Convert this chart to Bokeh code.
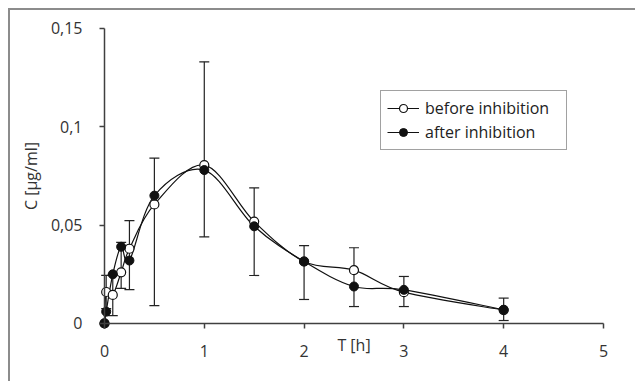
from bokeh.plotting import figure
from bokeh.models import (ColumnDataSource, Whisker, TeeHead, Legend, LegendItem,
                          FixedTicker, CustomJSTickFormatter, Range1d)
from bokeh.embed import file_html
from bokeh.resources import INLINE

# ---- data ----
times = [0, 0.017, 0.083, 0.167, 0.25, 0.5, 1, 1.5, 2, 2.5, 3, 4]
before = [0, 0.016, 0.0145, 0.026, 0.038, 0.0605, 0.0805, 0.0518, 0.0315, 0.0271, 0.0159, 0.0068]
after = [0, 0.006, 0.025, 0.039, 0.032, 0.065, 0.078, 0.0494, 0.0315, 0.0188, 0.0171, 0.0070]

err_times = [0.017, 0.083, 0.167, 0.25, 0.5, 1, 1.5, 2, 2.5, 3, 4]
err_upper = [0.0245, 0.025, 0.0412, 0.0523, 0.0841, 0.133, 0.0689, 0.0396, 0.0385, 0.0239, 0.0129]
err_lower = [0.0075, 0.004, 0.0178, 0.0172, 0.0091, 0.044, 0.0244, 0.0122, 0.0086, 0.0086, 0.0015]

x_ticks = [0, 1, 2, 3, 4, 5]
y_ticks = [0, 0.05, 0.1, 0.15]
y_tick_labels = ["0", "0,05", "0,1", "0,15"]
series_names = ["before inhibition", "after inhibition"]
x_label = "T [h]"
y_label = "C [µg/ml]"

FONT = "Open Sans"
TXT = "#333333"
AX = "#404040"
FRAME = "#8c8c8c"


def smooth_segments(xs, ys):
    """Catmull-Rom style smoothing (like a spreadsheet's smoothed line)."""
    n = len(xs)
    d = dict(x0=[], y0=[], x1=[], y1=[], cx0=[], cy0=[], cx1=[], cy1=[])
    for i in range(n - 1):
        xm, ym = (xs[i - 1], ys[i - 1]) if i > 0 else (xs[i], ys[i])
        xp, yp = (xs[i + 2], ys[i + 2]) if i + 2 < n else (xs[i + 1], ys[i + 1])
        d["x0"].append(xs[i]); d["y0"].append(ys[i])
        d["x1"].append(xs[i + 1]); d["y1"].append(ys[i + 1])
        d["cx0"].append(xs[i] + (xs[i + 1] - xm) / 6)
        d["cy0"].append(ys[i] + (ys[i + 1] - ym) / 6)
        d["cx1"].append(xs[i + 1] - (xp - xs[i]) / 6)
        d["cy1"].append(ys[i + 1] - (yp - ys[i]) / 6)
    return ColumnDataSource(d)


# plotting frame covers the whole canvas; axes sit at x=0 / y=0
p = figure(width=635, height=381, output_backend="svg", toolbar_location=None,
           x_range=Range1d(-1.042, 5.321), y_range=Range1d(-0.0295, 0.1642),
           min_border_left=0, min_border_right=0, min_border_top=0, min_border_bottom=0)
p.outline_line_color = None
p.grid.grid_line_color = None
p.background_fill_color = None
p.border_fill_color = None
# outer grey frame of the figure (left and top edges visible in the window)
p.styles = {
    "background": (f"linear-gradient({FRAME},{FRAME}) 8px 8px / 2px 500px no-repeat, "
                   f"linear-gradient({FRAME},{FRAME}) 8px 8px / 800px 2px no-repeat, #ffffff"),
}

# axes
for ax in (p.xaxis[0], p.yaxis[0]):
    ax.fixed_location = 0
    ax.axis_line_color = AX
    ax.axis_line_width = 1.5
    ax.major_tick_line_color = AX
    ax.major_tick_line_width = 1.5
    ax.major_tick_in = 0
    ax.major_tick_out = 5
    ax.minor_tick_line_color = None
    ax.major_label_text_font = FONT
    ax.major_label_text_font_size = "16px"
    ax.major_label_text_color = TXT
    ax.axis_label_text_font = FONT
    ax.axis_label_text_font_size = "16px"
    ax.axis_label_text_font_style = "normal"
    ax.axis_label_text_color = TXT

p.xaxis.bounds = (0, 5)
p.yaxis.bounds = (0, 0.15)
p.xaxis.ticker = FixedTicker(ticks=x_ticks)
p.yaxis.ticker = FixedTicker(ticks=y_ticks)
p.yaxis.formatter = CustomJSTickFormatter(
    args=dict(t=y_ticks, l=y_tick_labels),
    code="for (let i = 0; i < t.length; i++) { if (Math.abs(tick - t[i]) < 1e-9) return l[i]; } return '';")
p.xaxis.major_label_standoff = 17
p.yaxis.major_label_standoff = 17

p.yaxis.axis_label = y_label
p.yaxis.axis_label_standoff = 6
p.xaxis.axis_label = x_label
p.xaxis.axis_label_standoff = -27

# lines (smoothed)
sb = smooth_segments(times, before)
sa = smooth_segments(times, after)
rb_line = p.bezier("x0", "y0", "x1", "y1", "cx0", "cy0", "cx1", "cy1", source=sb,
                   line_color="#111111", line_width=1.2)
ra_line = p.bezier("x0", "y0", "x1", "y1", "cx0", "cy0", "cx1", "cy1", source=sa,
                   line_color="#111111", line_width=1.2)

# error bars
es = ColumnDataSource(dict(x=err_times, upper=err_upper, lower=err_lower))
p.add_layout(Whisker(source=es, base="x", upper="upper", lower="lower",
                     line_color="#222222", line_width=1.2,
                     upper_head=TeeHead(size=10, line_color="#222222", line_width=1.2),
                     lower_head=TeeHead(size=10, line_color="#222222", line_width=1.2)))

src = ColumnDataSource(dict(t=times, b=before, a=after))
rb_pt = p.scatter("t", "b", source=src, size=9, marker="circle",
                  fill_color="white", line_color="#111111", line_width=1.2)
ra_pt = p.scatter("t", "a", source=src, size=9, marker="circle",
                  fill_color="#111111", line_color="#111111", line_width=1)

legend = Legend(items=[LegendItem(label=series_names[0], renderers=[rb_line, rb_pt]),
                       LegendItem(label=series_names[1], renderers=[ra_line, ra_pt])],
                location=(380, 231), orientation="vertical",
                label_text_font=FONT, label_text_font_size="16px", label_text_color="#222222",
                glyph_width=32, glyph_height=20, label_height=20, label_width=135,
                label_standoff=6, spacing=2, padding=6,
                margin=0, border_line_color="#444444", border_line_width=1.5,
                background_fill_color="white", background_fill_alpha=1)
p.add_layout(legend, "center")

open("out.html", "w").write(file_html(p, INLINE))
